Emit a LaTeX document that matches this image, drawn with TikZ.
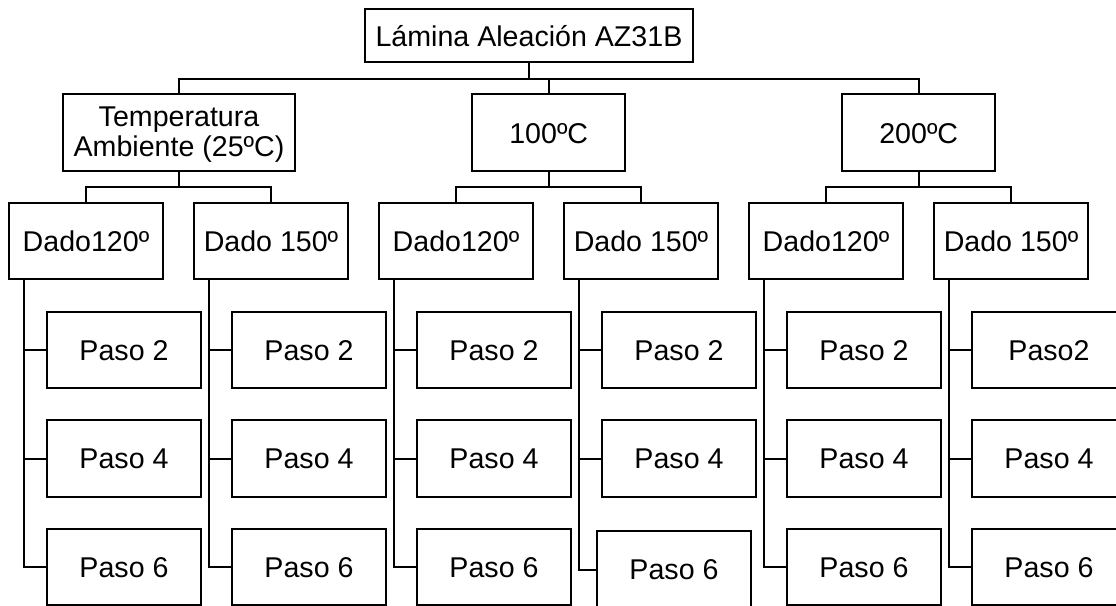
\documentclass[tikz,border=0pt]{standalone}
\usepackage{fontspec}
\setmainfont{Liberation Sans}
\tikzset{
  box/.style={draw, line width=2pt, inner sep=0pt, outer sep=0pt, align=center,
    font=\fontsize{28.6}{30}\selectfont},
  one/.style={box, text height=20.5pt, text depth=0pt},
  top/.style={one, minimum width=328, minimum height=53},
  lvl/.style={one, minimum width=152.7, minimum height=77},
  dado/.style={one, minimum width=154, minimum height=76},
  paso/.style={one, minimum width=154, minimum height=76.5},
  conn/.style={line width=2pt},
}
\begin{document}
\begin{tikzpicture}[x=1pt,y=-1pt]
\clip (0,0) rectangle (1116,605);
\node[top] (top) at (529,35.8) {Lámina Aleación AZ31B};
\node[box, minimum width=232, minimum height=77] (t1) at (179,132.8) {\rule{0pt}{24pt}Temperatura\\Ambiente (25ºC)};
\node[lvl] (t2) at (548.7,132.8) {100ºC};
\node[lvl] (t3) at (918.7,132.8) {200ºC};
% Dado
\node[dado] (a1) at (86,241.4) {Dado120º};
\node[dado] (a2) at (271,241.4) {Dado 150º};
\node[dado] (b1) at (456,241.4) {Dado120º};
\node[dado] (b2) at (641,241.4) {Dado 150º};
\node[dado] (c1) at (826,241.4) {Dado120º};
\node[dado] (c2) at (1011,241.4) {Dado 150º};
% Paso group A
\node[paso] (a1p2) at (124,350) {Paso 2};
\node[paso] (a1p4) at (124,458.5) {Paso 4};
\node[paso] (a1p6) at (124,567) {Paso 6};
\node[paso] (a2p2) at (309,350) {Paso 2};
\node[paso] (a2p4) at (309,458.5) {Paso 4};
\node[paso] (a2p6) at (309,567) {Paso 6};
% Paso group B
\node[paso] (b1p2) at (494,350) {Paso 2};
\node[paso] (b1p4) at (494,458.5) {Paso 4};
\node[paso] (b1p6) at (494,567) {Paso 6};
\node[paso] (b2p2) at (679,350) {Paso 2};
\node[paso] (b2p4) at (679,458.5) {Paso 4};
\node[paso] (b2p6) at (674,569.5) {Paso 6};
% Paso group C
\node[paso] (c1p2) at (864,350) {Paso 2};
\node[paso] (c1p4) at (864,458.5) {Paso 4};
\node[paso] (c1p6) at (864,567) {Paso 6};
\node[paso] (c2p2) at (1049,350) {Paso2};
\node[paso] (c2p4) at (1049,458.5) {Paso 4};
\node[paso] (c2p6) at (1049,567) {Paso 6};
% connectors level 1
\foreach \t in {t1,t2,t3}
  \draw[conn] (top.south) -- ++(0,16.5) -| (\t.north);
% connectors level 2
\foreach \p/\d in {t1/a1,t1/a2,t2/b1,t2/b2,t3/c1,t3/c2}
  \draw[conn] (\p.south) -- ++(0,15.5) -| (\d.north);
% connectors to Paso
\foreach \d in {a1,a2,b1,b2,c1,c2}
  \foreach \s in {p2,p4,p6}
    \draw[conn] ([xshift=15pt]\d.south west) |- (\d\s.west);
\end{tikzpicture}
\end{document}
